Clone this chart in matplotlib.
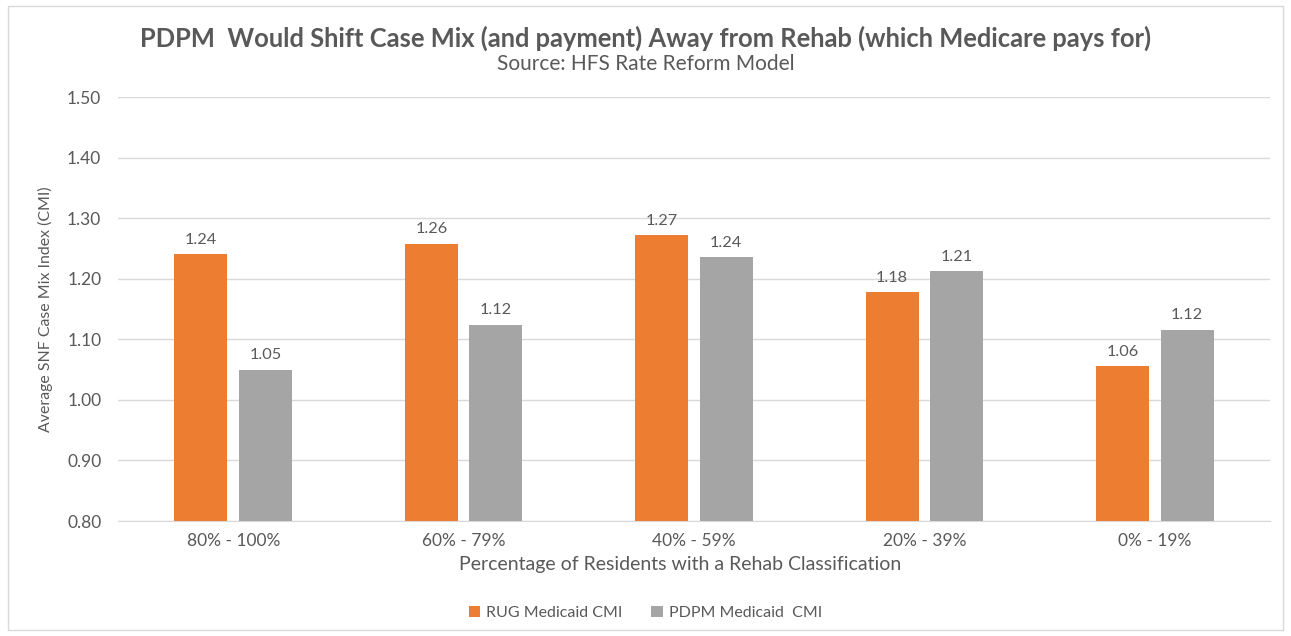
import matplotlib
matplotlib.use("Agg")
import matplotlib.pyplot as plt
import numpy as np
from matplotlib.patches import Rectangle

categories = ["80% - 100%", "60% - 79%", "40% - 59%", "20% - 39%", "0% - 19%"]
rug_values = [1.240, 1.258, 1.272, 1.178, 1.056]
pdpm_values = [1.050, 1.124, 1.236, 1.213, 1.116]
series_names = ["RUG Medicaid CMI", "PDPM Medicaid  CMI"]
yticks = [0.80, 0.90, 1.00, 1.10, 1.20, 1.30, 1.40, 1.50]

plt.rcParams['font.family'] = ['Lato', 'DejaVu Sans']
txt = '#595959'
orange = '#ED7D31'
gray = '#A5A5A5'

fig = plt.figure(figsize=(12.91, 6.36), dpi=100)
ax = fig.add_axes([118/1291, 1-521/636, (1270-118)/1291, (521-97)/636])

x = np.arange(len(categories))
w = 0.23
off = 0.14
b1 = ax.bar(x - off, rug_values, w, color=orange, label=series_names[0], zorder=3)
b2 = ax.bar(x + off, pdpm_values, w, color=gray, label=series_names[1], zorder=3)
for bars in (b1, b2):
    for r in bars:
        ax.text(r.get_x() + r.get_width()/2, r.get_height() + 0.012, f"{r.get_height():.2f}",
                ha='center', va='bottom', fontsize=11.7, color=txt, zorder=4)

ax.set_xlim(-0.5, len(categories) - 0.5)
ax.set_ylim(0.80, 1.50)
ax.set_yticks(yticks)
ax.set_yticklabels([f"{v:.2f}" for v in yticks])
ax.set_xticks(x)
ax.set_xticklabels(categories)
ax.tick_params(axis='both', length=0, colors=txt, labelsize=12.5)
ax.tick_params(axis='y', pad=12)
ax.tick_params(axis='x', pad=9)
ax.grid(axis='y', color='#D9D9D9', linewidth=1, zorder=0)
for s in ['top', 'right', 'left']:
    ax.spines[s].set_visible(False)
ax.spines['bottom'].set_color('#D9D9D9')

ax.set_xlabel("Percentage of Residents with a Rehab Classification", fontsize=14, color=txt, labelpad=6)
ax.xaxis.set_label_coords(0.488, -0.083)
ax.set_ylabel("Average SNF Case Mix Index (CMI)", fontsize=11.4, color=txt, labelpad=10)

fig.text(0.5, 1-38/636, "PDPM  Would Shift Case Mix (and payment) Away from Rehab (which Medicare pays for)",
         ha='center', va='center', fontsize=18.4, fontweight='bold', color=txt)
fig.text(0.5, 1-64/636, "Source: HFS Rate Reform Model", ha='center', va='center', fontsize=15, color=txt)

fig.legend(handles=[b1, b2], labels=series_names, loc='center', bbox_to_anchor=(0.5, 1-613/636),
           ncol=2, frameon=False, fontsize=11.5, labelcolor=txt, handlelength=0.7, handleheight=0.7,
           handletextpad=0.4, columnspacing=1.8)

fig.patches.append(Rectangle((8/1291, 6/636), 1-16/1291, 1-12/636, transform=fig.transFigure,
                             fill=False, edgecolor='#D9D9D9', linewidth=1))

fig.savefig("out.png", dpi=100, facecolor='white')
